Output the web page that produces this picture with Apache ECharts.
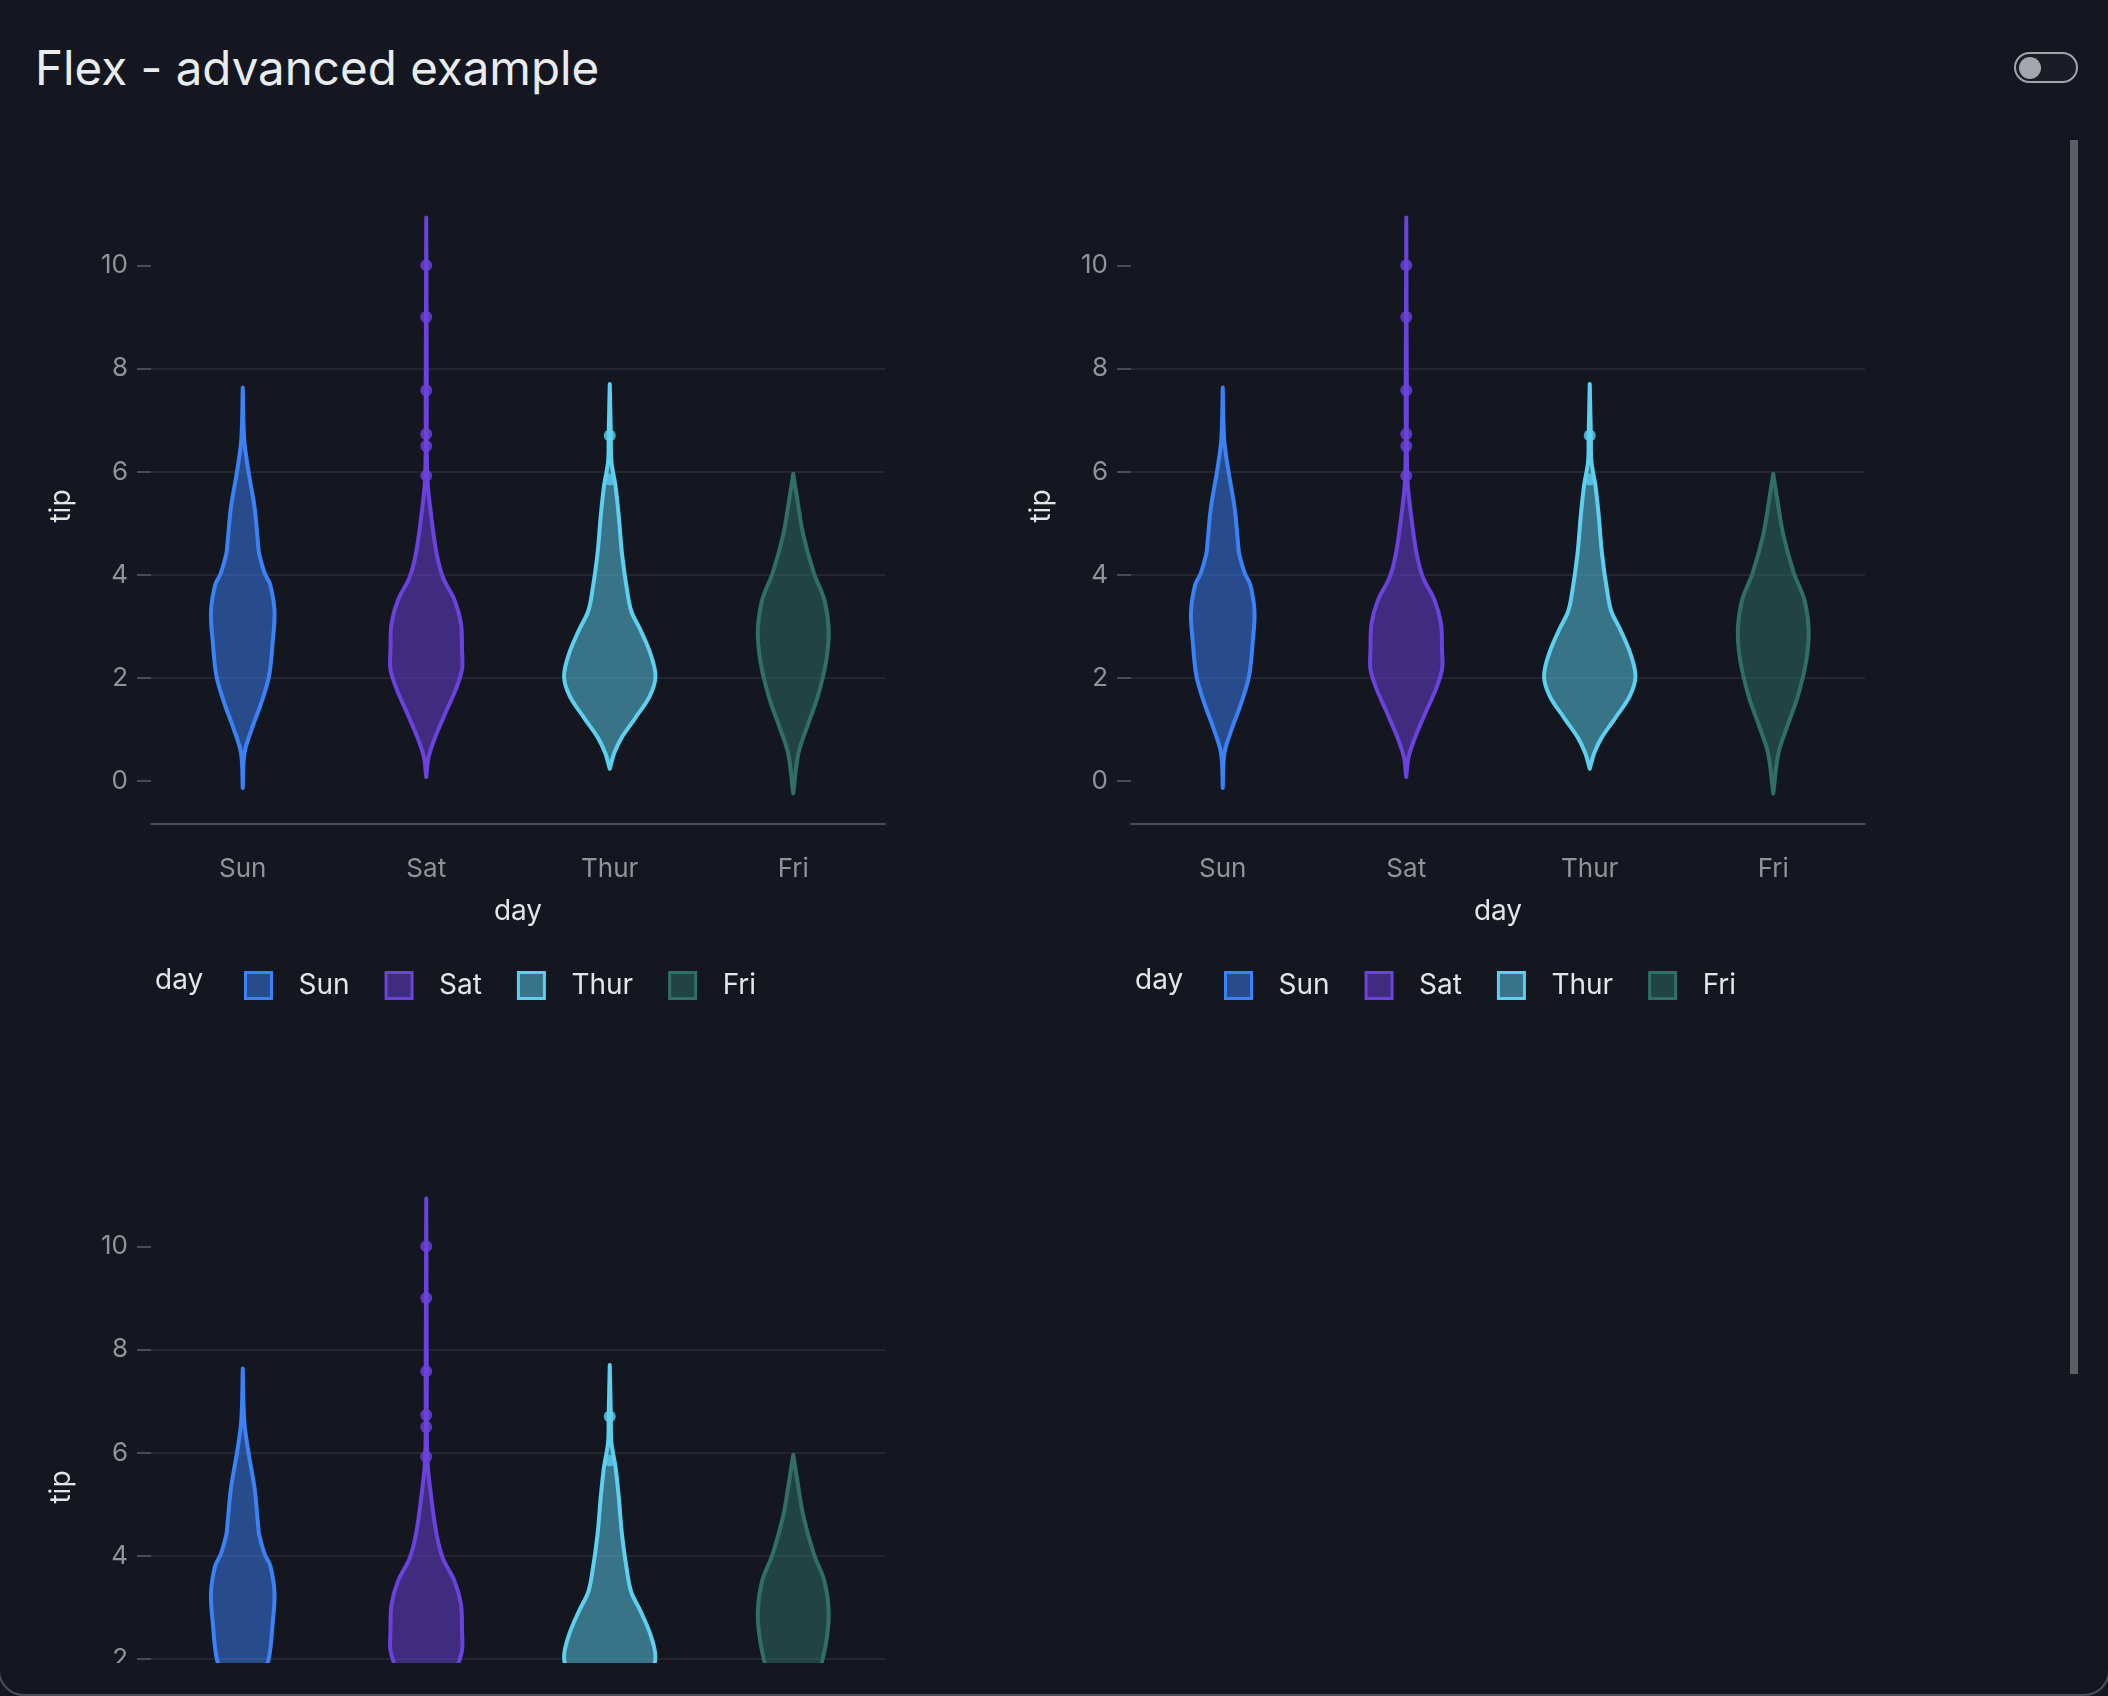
<!DOCTYPE html>
<html>
<head>
<meta charset="utf-8">
<title>Flex - advanced example</title>
<script src="https://cdn.jsdelivr.net/npm/echarts@6/dist/echarts.min.js"></script>
<style>
  html, body { margin: 0; padding: 0; background: #141720; }
  body { width: 2108px; height: 1696px; position: relative; overflow: hidden; font-family: Inter, sans-serif; }
  .frame { position: absolute; left: -2px; top: -40px; width: 2112px; height: 1736px; box-sizing: border-box;
    border: 2px solid #4d4f57; border-radius: 0 0 26px 26px; pointer-events: none; }
  h1 { position: absolute; left: 35px; top: 44px; margin: 0; font-size: 47.5px; line-height: 48px; font-weight: 400; color: #e9ecef; }
  .switch { position: absolute; left: 2014px; top: 52px; width: 64px; height: 31px; box-sizing: border-box;
    border: 2px solid #a3a4aa; border-radius: 16px; background: #1b1d26; }
  .switch .knob { position: absolute; left: 3px; top: 3px; width: 22px; height: 22px; border-radius: 50%; background: #a5a6ad; }
  .scroll { position: absolute; left: 0; top: 120px; width: 1960px; height: 1543px; overflow: hidden; display: flex; flex-wrap: wrap; }
  .chart { width: 980px; height: 981px; }
  .thumb { position: absolute; left: 2070px; top: 140px; width: 8px; height: 1234px; background: #5c5e66; }
</style>
</head>
<body>
<div class="frame"></div>
<h1>Flex - advanced example</h1>
<div class="switch"><div class="knob"></div></div>
<div class="scroll">
  <div class="chart" id="chart1"></div>
  <div class="chart" id="chart2"></div>
  <div class="chart" id="chart3"></div>
</div>
<div class="thumb"></div>

<script>
const days = ['Sun', 'Sat', 'Thur', 'Fri']
const yTicks = [0, 2, 4, 6, 8, 10]

// violin outlines: [tip, half width as share of the category band]
const sunViolin = [
  [-0.13, 0], [0.54, 0.009], [0.99, 0.047], [1.51, 0.1], [2.03, 0.143], [2.69, 0.163],
  [3.29, 0.173], [3.81, 0.15], [4.03, 0.12], [4.4, 0.09], [4.62, 0.083], [5.29, 0.065],
  [6.03, 0.03], [6.62, 0.008], [7.63, 0],
]
const satViolin = [
  [0.08, 0], [0.47, 0.013], [0.84, 0.047], [1.36, 0.109], [1.8, 0.163], [2.17, 0.195],
  [2.54, 0.195], [3.06, 0.189], [3.51, 0.154], [3.95, 0.091], [4.4, 0.057], [5.14, 0.027],
  [5.88, 0.006], [7.6, 0.003], [10.93, 0],
]
const thurViolin = [
  [0.24, 0], [0.54, 0.024], [0.84, 0.064], [1.21, 0.136], [1.65, 0.218], [2.03, 0.249],
  [2.47, 0.222], [2.92, 0.169], [3.29, 0.118], [3.66, 0.096], [4.4, 0.067], [5.14, 0.049],
  [5.73, 0.031], [6.2, 0.009], [6.7, 0.006], [7.7, 0],
]
const friViolin = [
  [-0.24, 0], [0.54, 0.028], [1.06, 0.076], [1.65, 0.134], [2.32, 0.179], [2.92, 0.193],
  [3.51, 0.17], [4.03, 0.113], [4.77, 0.055], [5.44, 0.023], [5.96, 0],
]

// tips drawn as single points
const satOutliers = [10, 9, 7.58, 6.73, 6.5, 5.92]
const thurOutliers = [6.7, 5.85]

const colors = { Sun: '#3b82f6', Sat: '#6a42dd', Thur: '#5cd0ee', Fri: '#2f6f66' }

function fade(hex, alpha = 0.5) {
  const n = parseInt(hex.slice(1), 16)
  return `rgba(${(n >> 16) & 255}, ${(n >> 8) & 255}, ${n & 255}, ${alpha})`
}

function violinSeries(day, outline) {
  const idx = days.indexOf(day)
  const color = colors[day]
  return {
    type: 'custom',
    name: day,
    data: outline.map(([tip, w]) => [idx, tip, w]),
    encode: { x: 0, y: 1 },
    itemStyle: { color: fade(color), borderColor: color },
    renderItem(params, api) {
      if (params.dataIndex > 0) return null
      const band = api.size([1, 0])[0]
      const right = outline.map(([tip, w]) => {
        const p = api.coord([idx, tip])
        return [p[0] + w * band, p[1]]
      })
      const left = outline
        .slice()
        .reverse()
        .map(([tip, w]) => {
          const p = api.coord([idx, tip])
          return [p[0] - w * band, p[1]]
        })
      return {
        type: 'polygon',
        shape: { points: right.concat(left), smooth: 0.35 },
        style: { fill: fade(color), stroke: color, lineWidth: 4, lineJoin: 'round' },
      }
    },
  }
}

function pointSeries(day, values) {
  return {
    type: 'scatter',
    name: day,
    data: values.map((v) => [day, v]),
    symbolSize: 12,
    itemStyle: { color: colors[day] },
    z: 3,
  }
}

function buildOption() {
  const tickColor = '#919399'
  const textColor = '#e4e5e7'
  return {
    backgroundColor: 'transparent',
    textStyle: { fontFamily: 'Inter' },
    animation: false,
    title: {
      text: 'day',
      left: 155,
      top: 847,
      padding: 0,
      textStyle: { color: textColor, fontSize: 28, fontWeight: 'normal', fontFamily: 'Inter' },
    },
    legend: {
      left: 244,
      top: 851,
      padding: 0,
      icon: 'rect',
      itemWidth: 26,
      itemHeight: 26,
      itemGap: 35,
      textStyle: { color: textColor, fontSize: 28, fontFamily: 'Inter', padding: [0, 0, 0, 22] },
      data: days.map((d) => ({
        name: d,
        itemStyle: { color: fade(colors[d]), borderColor: colors[d], borderWidth: 3 },
      })),
    },
    grid: { left: 151, top: 68, width: 734, height: 636 },
    xAxis: {
      type: 'category',
      data: days,
      name: 'day',
      nameLocation: 'middle',
      nameGap: 74,
      nameTextStyle: { color: textColor, fontSize: 28, fontFamily: 'Inter' },
      axisLine: { onZero: false, lineStyle: { color: '#5c5f66', width: 1.5 } },
      axisTick: { alignWithLabel: true, length: 16, lineStyle: { color: '#5c5f66', width: 1.5 } },
      axisLabel: { color: tickColor, fontSize: 26, margin: 32, fontFamily: 'Inter' },
      splitLine: { show: false },
    },
    yAxis: {
      type: 'value',
      min: -0.83,
      max: 11.5,
      name: 'tip',
      nameLocation: 'middle',
      nameRotate: 90,
      nameGap: 75,
      nameTextStyle: { color: textColor, fontSize: 28, fontFamily: 'Inter' },
      axisLine: { show: false },
      axisTick: { show: true, length: 14, customValues: yTicks, lineStyle: { color: '#5c5f66', width: 1.5 } },
      axisLabel: { color: tickColor, fontSize: 26, margin: 23, customValues: yTicks, fontFamily: 'Inter' },
      splitLine: { showMinLine: false, showMaxLine: false, lineStyle: { color: '#2a2d36', width: 1.5 } },
    },
    series: [
      violinSeries('Sun', sunViolin),
      violinSeries('Sat', satViolin),
      violinSeries('Thur', thurViolin),
      violinSeries('Fri', friViolin),
      pointSeries('Sat', satOutliers),
      pointSeries('Thur', thurOutliers),
    ],
  }
}

const charts = ['chart1', 'chart2', 'chart3'].map((id) => {
  const chart = echarts.init(document.getElementById(id))
  chart.setOption(buildOption())
  return chart
})

window.addEventListener('resize', () => charts.forEach((c) => c.resize()))
</script>
</body>
</html>
